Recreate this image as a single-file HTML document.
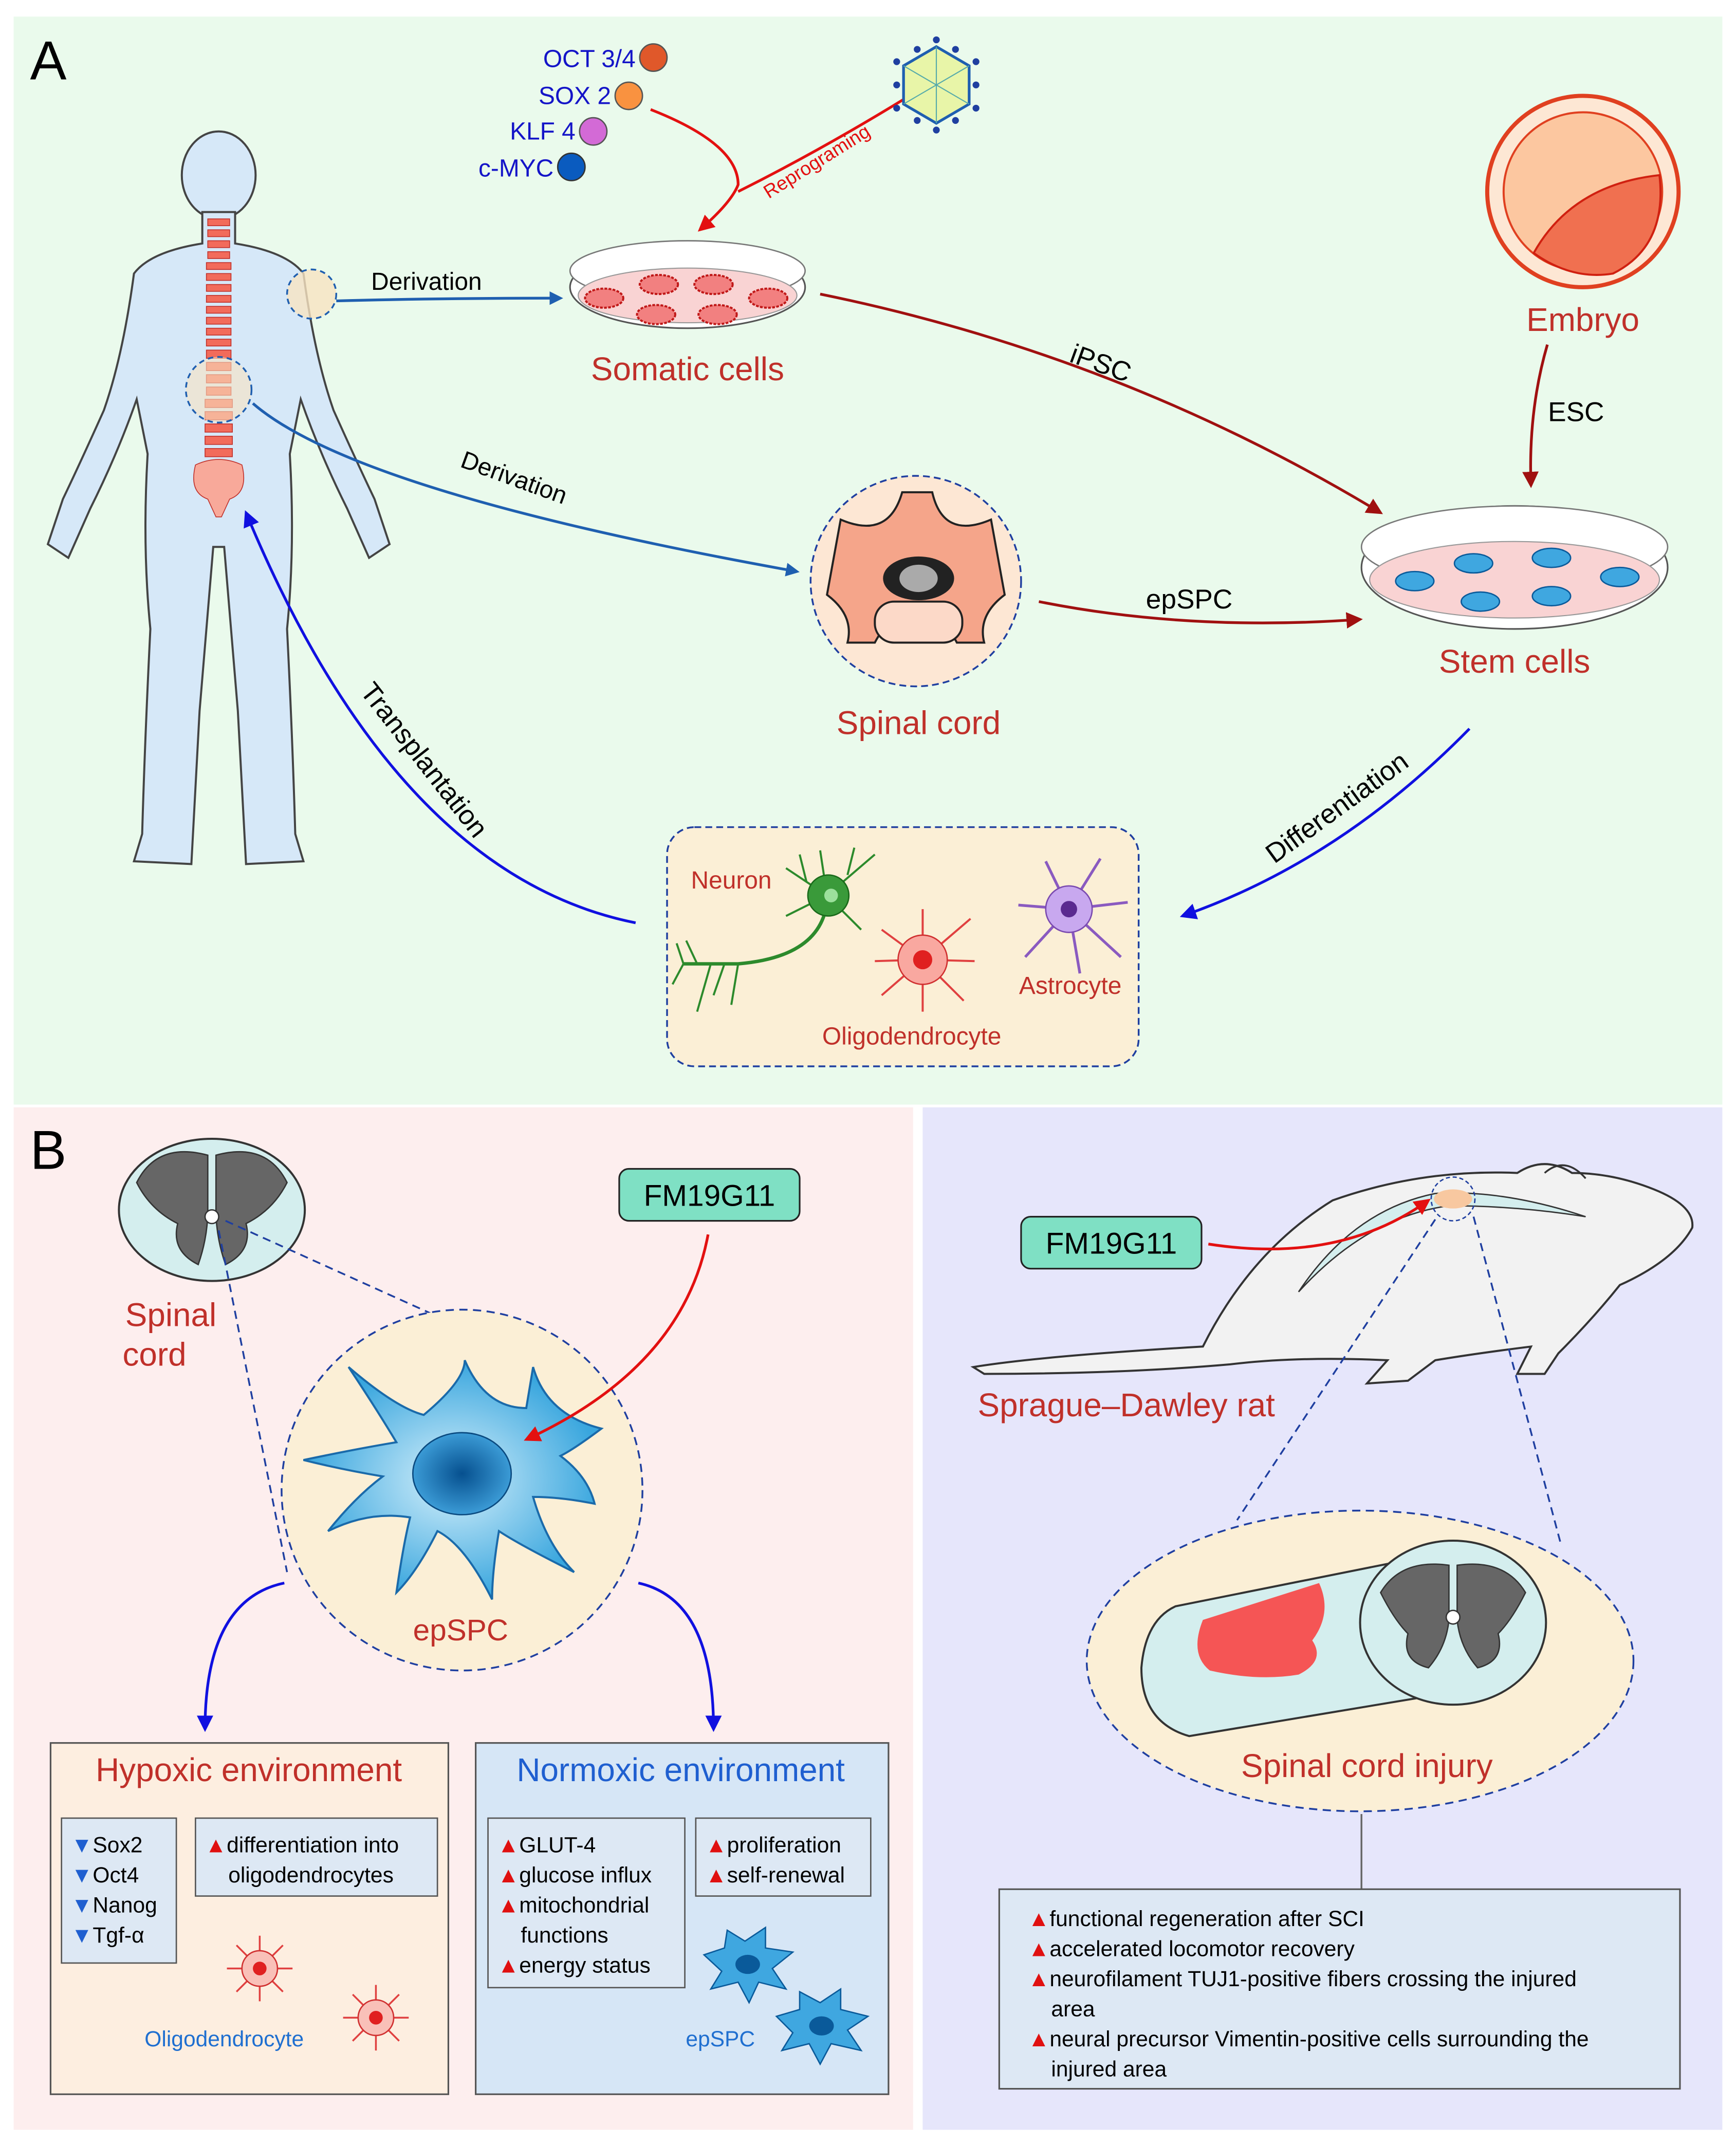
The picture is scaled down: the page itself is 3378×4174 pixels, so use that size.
<!DOCTYPE html>
<html><head><meta charset="utf-8"><style>
html,body{margin:0;padding:0;background:#fff}
svg{display:block}
text{font-family:"Liberation Sans",sans-serif}
</style></head><body>
<svg width="3378" height="4174" viewBox="0 0 1270 1569" xmlns="http://www.w3.org/2000/svg">
<defs>
<marker id="ab" markerWidth="10" markerHeight="10" refX="8" refY="5" orient="auto" markerUnits="userSpaceOnUse"><path d="M0,0 L10,5 L0,10 Z" fill="#1f5fb0"/></marker>
<marker id="ar" markerWidth="12" markerHeight="12" refX="10" refY="6" orient="auto" markerUnits="userSpaceOnUse"><path d="M0,0 L12,6 L0,12 Z" fill="#a01010"/></marker>
<marker id="arr" markerWidth="12" markerHeight="12" refX="10" refY="6" orient="auto" markerUnits="userSpaceOnUse"><path d="M0,0 L12,6 L0,12 Z" fill="#e31010"/></marker>
<marker id="abb" markerWidth="12" markerHeight="12" refX="10" refY="6" orient="auto" markerUnits="userSpaceOnUse"><path d="M0,0 L12,6 L0,12 Z" fill="#1010e0"/></marker>
<radialGradient id="cellg" cx="0.5" cy="0.5" r="0.5"><stop offset="0" stop-color="#d6f0fb"/><stop offset="1" stop-color="#39a6de"/></radialGradient>
<radialGradient id="nucg" cx="0.5" cy="0.5" r="0.5"><stop offset="0" stop-color="#06508f"/><stop offset="1" stop-color="#3b9bd6"/></radialGradient>
</defs>
<rect width="1270" height="1569" fill="#fff"/>
<rect x="10" y="12" width="1250" height="796" fill="#eafaec"/>
<rect x="10" y="810" width="658" height="748" fill="#fdeeee"/>
<rect x="675" y="810" width="585" height="748" fill="#e6e6fb"/>
<text x="22" y="58" font-size="40">A</text>
<text x="22" y="855" font-size="40">B</text>

<ellipse cx="160" cy="128" rx="27" ry="32" fill="#d6e8f8" stroke="#444" stroke-width="1.5"/>
<path d="M148,155 L148,178 Q110,184 98,200 Q90,260 76,300 Q58,340 46,365 L35,398 L50,408 L66,372 Q86,332 100,292 L108,332 Q104,400 110,460 Q106,540 104,610 L98,630 L140,632 L146,520 L156,400 L164,400 L174,520 L180,632 L222,630 L216,610 Q214,540 210,460 Q216,400 212,332 L220,292 Q234,332 254,372 L270,408 L285,398 L274,365 Q262,340 244,300 Q230,260 222,200 Q210,184 172,178 L172,155 Z" fill="#d6e8f8" stroke="#444" stroke-width="1.5"/>
<g fill="#f26b5b" stroke="#c0302a" stroke-width="0.6">
<rect x="152" y="160" width="16" height="5"/><rect x="152" y="168" width="16" height="5"/><rect x="152" y="176" width="16" height="5"/><rect x="152" y="184" width="16" height="5"/>
<rect x="151" y="192" width="18" height="5"/><rect x="151" y="200" width="18" height="5"/><rect x="151" y="208" width="18" height="5"/><rect x="151" y="216" width="18" height="5"/>
<rect x="151" y="224" width="18" height="5"/><rect x="151" y="232" width="18" height="5"/><rect x="151" y="240" width="18" height="5"/><rect x="151" y="248" width="18" height="5"/>
<rect x="151" y="256" width="18" height="6"/><rect x="151" y="265" width="18" height="6"/><rect x="151" y="274" width="18" height="6"/><rect x="151" y="283" width="18" height="6"/>
<rect x="150" y="292" width="20" height="6"/><rect x="150" y="301" width="20" height="6"/><rect x="150" y="310" width="20" height="6"/><rect x="150" y="319" width="20" height="6"/><rect x="150" y="328" width="20" height="6"/>
<path d="M143,340 Q160,332 177,340 Q182,360 168,365 L162,378 L158,378 L152,365 Q138,360 143,340 Z" fill="#f8a99a"/>
</g>
<circle cx="228" cy="215" r="18" fill="#f8e3c2" fill-opacity="0.8" stroke="#1f5fb0" stroke-width="1.3" stroke-dasharray="4,3"/>
<circle cx="160" cy="285" r="24" fill="#f8e3c2" fill-opacity="0.6" stroke="#1f5fb0" stroke-width="1.3" stroke-dasharray="4,3"/>

<path d="M246,220 Q320,218 410,218" fill="none" stroke="#1f5fb0" stroke-width="2" marker-end="url(#ab)"/>
<text x="312" y="212" font-size="18" text-anchor="middle">Derivation</text>
<path d="M185,295 Q260,360 583,418" fill="none" stroke="#1f5fb0" stroke-width="2" marker-end="url(#ab)"/>
<text x="374" y="355" font-size="18" text-anchor="middle" transform="rotate(20 374 355)">Derivation</text>

<ellipse cx="503" cy="210" rx="86" ry="30" fill="#fff" stroke="#555" stroke-width="1.2"/>
<ellipse cx="503" cy="198" rx="86" ry="22" fill="#fff" stroke="#777" stroke-width="1"/>
<ellipse cx="503" cy="216" rx="80" ry="20" fill="#f9d3d3" stroke="#999" stroke-width="0.8"/>
<g fill="#f28080" stroke="#c01818" stroke-width="1.5" stroke-dasharray="2,1">
<ellipse cx="442" cy="218" rx="14" ry="7"/><ellipse cx="482" cy="208" rx="14" ry="7"/><ellipse cx="522" cy="208" rx="14" ry="7"/><ellipse cx="562" cy="218" rx="14" ry="7"/><ellipse cx="480" cy="230" rx="14" ry="7"/><ellipse cx="525" cy="230" rx="14" ry="7"/>
</g>
<text x="503" y="278" font-size="24" fill="#c0302a" text-anchor="middle">Somatic cells</text>

<g font-size="18" fill="#1414c8" text-anchor="end">
<text x="465" y="49">OCT 3/4</text><text x="447" y="76">SOX 2</text><text x="421" y="102">KLF 4</text><text x="405" y="129">c-MYC</text>
</g>
<circle cx="478" cy="42" r="10" fill="#e0582a" stroke="#555"/>
<circle cx="460" cy="70" r="10" fill="#f99240" stroke="#555"/>
<circle cx="434" cy="96" r="10" fill="#d36ad6" stroke="#555"/>
<circle cx="418" cy="122" r="10" fill="#0a5bbf" stroke="#333"/>
<path d="M476,80 Q540,105 540,135 Q535,148 512,168" fill="none" stroke="#e31010" stroke-width="2" marker-end="url(#arr)"/>
<path d="M662,72 Q600,110 540,140" fill="none" stroke="#e31010" stroke-width="2"/>
<text x="600" y="122" font-size="14" fill="#e31010" text-anchor="middle" transform="rotate(-32 600 122)">Reprograming</text>
<g transform="translate(685,62)">
<polygon points="0,-28 24,-14 24,14 0,28 -24,14 -24,-14" fill="#e8f5a8" stroke="#1f5fb0" stroke-width="2"/>
<path d="M0,-28 L0,28 M-24,-14 L24,14 M24,-14 L-24,14" stroke="#5aa" stroke-width="0.8"/>
<g fill="#1f3fa0"><circle cx="0" cy="-33" r="2.5"/><circle cx="0" cy="33" r="2.5"/><circle cx="29" cy="-17" r="2.5"/><circle cx="-29" cy="-17" r="2.5"/><circle cx="29" cy="17" r="2.5"/><circle cx="-29" cy="17" r="2.5"/><circle cx="14" cy="-26" r="2.5"/><circle cx="-14" cy="-26" r="2.5"/><circle cx="14" cy="26" r="2.5"/><circle cx="-14" cy="26" r="2.5"/><circle cx="29" cy="0" r="2.5"/><circle cx="-29" cy="0" r="2.5"/></g>
</g>

<circle cx="1158" cy="140" r="70" fill="#fde7d4" stroke="#e04020" stroke-width="3"/>
<circle cx="1158" cy="140" r="58" fill="#fcc7a0" stroke="#e04020" stroke-width="1.5"/>
<path d="M1122,185 Q1150,135 1214,128 Q1220,180 1180,200 Q1150,205 1122,185 Z" fill="#f07050" stroke="#d02010" stroke-width="1.5"/>
<text x="1158" y="242" font-size="24" fill="#c0302a" text-anchor="middle">Embryo</text>
<path d="M1132,252 Q1118,300 1120,355" fill="none" stroke="#a01010" stroke-width="2" marker-end="url(#ar)"/>
<text x="1153" y="308" font-size="20" text-anchor="middle">ESC</text>
<path d="M600,215 Q820,260 1010,375" fill="none" stroke="#a01010" stroke-width="2" marker-end="url(#ar)"/>
<text x="803" y="272" font-size="20" text-anchor="middle" transform="rotate(20 803 272)">iPSC</text>

<ellipse cx="1108" cy="415" rx="112" ry="45" fill="#fff" stroke="#555" stroke-width="1.2"/>
<ellipse cx="1108" cy="400" rx="112" ry="30" fill="#fff" stroke="#777"/>
<ellipse cx="1108" cy="424" rx="106" ry="28" fill="#f9d3d3" stroke="#999" stroke-width="0.8"/>
<g fill="#3fa7e0" stroke="#0a5a9a"><ellipse cx="1035" cy="425" rx="14" ry="7"/><ellipse cx="1078" cy="412" rx="14" ry="7"/><ellipse cx="1135" cy="408" rx="14" ry="7"/><ellipse cx="1185" cy="422" rx="14" ry="7"/><ellipse cx="1083" cy="440" rx="14" ry="7"/><ellipse cx="1135" cy="436" rx="14" ry="7"/></g>
<text x="1108" y="492" font-size="24" fill="#c0302a" text-anchor="middle">Stem cells</text>

<circle cx="670" cy="425" r="77" fill="#fde7d4" stroke="#1f3fa0" stroke-width="1.3" stroke-dasharray="5,3"/>
<path d="M615,380 Q650,395 660,360 L682,360 Q690,395 725,380 L735,435 Q715,450 720,470 L700,470 Q690,450 670,450 Q650,450 640,470 L620,470 Q625,450 605,435 Z" fill="#f5a58a" stroke="#222" stroke-width="1.5"/>
<ellipse cx="672" cy="423" rx="26" ry="16" fill="#222"/>
<ellipse cx="672" cy="423" rx="14" ry="10" fill="#aaa"/>
<rect x="640" y="440" width="64" height="30" rx="14" fill="#fcd9c8" stroke="#222" stroke-width="1.5"/>
<text x="672" y="537" font-size="24" fill="#c0302a" text-anchor="middle">Spinal cord</text>
<path d="M760,440 Q870,462 995,453" fill="none" stroke="#a01010" stroke-width="2" marker-end="url(#ar)"/>
<text x="870" y="445" font-size="20" text-anchor="middle">epSPC</text>

<path d="M1075,533 Q980,630 865,670" fill="none" stroke="#1010e0" stroke-width="2" marker-end="url(#abb)"/>
<text x="982" y="596" font-size="20" text-anchor="middle" transform="rotate(-36 982 596)">Differentiation</text>
<rect x="488" y="605" width="345" height="175" rx="20" fill="#fbefd6" stroke="#1f3fa0" stroke-width="1.3" stroke-dasharray="5,3"/>
<text x="535" y="650" font-size="18" fill="#c0302a" text-anchor="middle">Neuron</text>
<path d="M605,660 Q600,700 540,705 L500,705" fill="none" stroke="#2c8a2c" stroke-width="2.5"/>
<g stroke="#2c8a2c" stroke-width="1.5" fill="none"><path d="M500,705 L495,690 M500,705 L492,720 M520,705 L510,740 M540,705 L535,735 M510,705 L502,688 M530,705 L522,728"/>
<path d="M605,655 L575,635 M605,655 L640,625 M605,655 L630,680 M605,655 L600,622 M605,655 L575,670 M590,645 L585,625 M620,640 L625,620"/></g>
<circle cx="606" cy="655" r="15" fill="#3a9a3a" stroke="#1a6a1a"/>
<circle cx="608" cy="655" r="5" fill="#9ce09c"/>
<g stroke="#e04040" stroke-width="1.5" fill="none"><path d="M675,702 L645,680 M675,702 L710,672 M675,702 L705,732 M675,702 L645,728 M675,702 L675,665 M675,702 L675,740 M675,702 L640,703 M675,702 L713,703"/></g>
<circle cx="675" cy="702" r="18" fill="#f9a8a0" stroke="#d03030"/>
<circle cx="675" cy="702" r="7" fill="#e02020"/>
<g stroke="#8a5ac0" stroke-width="2" fill="none"><path d="M782,665 L745,662 M782,665 L765,630 M782,665 L805,628 M782,665 L825,660 M782,665 L820,700 M782,665 L790,712 M782,665 L750,700"/></g>
<circle cx="782" cy="665" r="17" fill="#c8a8ef" stroke="#7a4ab0"/>
<circle cx="782" cy="665" r="6" fill="#5a2a90"/>
<text x="667" y="764" font-size="18" fill="#c0302a" text-anchor="middle">Oligodendrocyte</text>
<text x="783" y="727" font-size="18" fill="#c0302a" text-anchor="middle">Astrocyte</text>

<path d="M465,675 Q290,640 180,375" fill="none" stroke="#1010e0" stroke-width="2" marker-end="url(#abb)"/>
<text x="305" y="560" font-size="20" text-anchor="middle" transform="rotate(52 305 560)">Transplantation</text>

<g transform="translate(155,885)">
<ellipse cx="0" cy="0" rx="68" ry="52" fill="#d4eeee" stroke="#333" stroke-width="1.5"/>
<path d="M-3,-40 Q-40,-50 -55,-20 Q-45,0 -25,10 Q-30,30 -10,40 Q-3,20 -3,0 Z" fill="#666" stroke="#333"/>
<path d="M3,-40 Q40,-50 55,-20 Q45,0 25,10 Q30,30 10,40 Q3,20 3,0 Z" fill="#666" stroke="#333"/>
<circle cx="0" cy="5" r="5" fill="#fff" stroke="#333"/>
</g>
<text x="125" y="970" font-size="24" fill="#c0302a" text-anchor="middle">Spinal</text>
<text x="113" y="999" font-size="24" fill="#c0302a" text-anchor="middle">cord</text>
<path d="M160,900 L210,1150 M165,893 L380,990" stroke="#1f3fa0" stroke-width="1.3" stroke-dasharray="6,4" fill="none"/>
<circle cx="338" cy="1090" r="132" fill="#fbefd6" stroke="#1f3fa0" stroke-width="1.3" stroke-dasharray="6,4"/>
<path d="M255,1000 Q290,1030 310,1035 Q340,1010 340,995 Q355,1030 385,1030 L390,1000 Q400,1035 440,1045 Q420,1060 410,1065 Q430,1080 435,1100 Q410,1095 390,1095 Q400,1130 420,1150 Q380,1130 365,1120 Q360,1150 360,1170 Q340,1130 320,1120 Q305,1150 290,1165 Q295,1130 300,1110 Q270,1105 240,1120 Q260,1095 280,1080 Q250,1075 222,1068 Q260,1060 290,1055 Q275,1030 255,1000 Z" fill="url(#cellg)" stroke="#1a6aaa" stroke-width="1.5"/>
<ellipse cx="338" cy="1078" rx="36" ry="30" fill="url(#nucg)" stroke="#0a4a80"/>
<text x="337" y="1200" font-size="22" fill="#c0302a" text-anchor="middle">epSPC</text>
<rect x="453" y="855" width="132" height="38" rx="7" fill="#7fe0c4" stroke="#222" stroke-width="1.2"/>
<text x="519" y="882" font-size="22" text-anchor="middle">FM19G11</text>
<path d="M518,903 Q500,1000 385,1053" fill="none" stroke="#e31010" stroke-width="2" marker-end="url(#arr)"/>
<path d="M208,1158 Q150,1170 150,1265" fill="none" stroke="#1010e0" stroke-width="2" marker-end="url(#abb)"/>
<path d="M467,1158 Q522,1170 522,1265" fill="none" stroke="#1010e0" stroke-width="2" marker-end="url(#abb)"/>

<rect x="37" y="1275" width="291" height="257" fill="#fdeee0" stroke="#555" stroke-width="1.2"/>
<text x="182" y="1303" font-size="24" fill="#c0302a" text-anchor="middle">Hypoxic environment</text>
<rect x="45" y="1330" width="84" height="106" fill="#dde8f4" stroke="#555"/>
<g font-size="16"><text x="52" y="1355"><tspan fill="#1f5fd0">▼</tspan>Sox2</text><text x="52" y="1377"><tspan fill="#1f5fd0">▼</tspan>Oct4</text><text x="52" y="1399"><tspan fill="#1f5fd0">▼</tspan>Nanog</text><text x="52" y="1421"><tspan fill="#1f5fd0">▼</tspan>Tgf-α</text></g>
<rect x="143" y="1330" width="177" height="57" fill="#dde8f4" stroke="#555"/>
<g font-size="16"><text x="150" y="1355"><tspan fill="#e01010">▲</tspan>differentiation into</text><text x="167" y="1377">oligodendrocytes</text></g>
<g stroke="#e04040" stroke-width="1.3"><path d="M190,1440 m-24,0 l48,0 m-24,-24 l0,48 m-17,-41 l34,34 m0,-34 l-34,34"/><path d="M275,1476 m-24,0 l48,0 m-24,-24 l0,48 m-17,-41 l34,34 m0,-34 l-34,34"/></g>
<circle cx="190" cy="1440" r="13" fill="#f9c0b8" stroke="#d03030"/><circle cx="190" cy="1440" r="5" fill="#e02020"/>
<circle cx="275" cy="1476" r="13" fill="#f9c0b8" stroke="#d03030"/><circle cx="275" cy="1476" r="5" fill="#e02020"/>
<text x="164" y="1497" font-size="16" fill="#1f6fd0" text-anchor="middle">Oligodendrocyte</text>

<rect x="348" y="1275" width="302" height="257" fill="#d6e6f6" stroke="#555" stroke-width="1.2"/>
<text x="498" y="1303" font-size="24" fill="#1f5fd0" text-anchor="middle">Normoxic environment</text>
<rect x="357" y="1330" width="144" height="124" fill="#dde8f4" stroke="#555"/>
<g font-size="16"><text x="364" y="1355"><tspan fill="#e01010">▲</tspan>GLUT-4</text><text x="364" y="1377"><tspan fill="#e01010">▲</tspan>glucose influx</text><text x="364" y="1399"><tspan fill="#e01010">▲</tspan>mitochondrial</text><text x="381" y="1421">functions</text><text x="364" y="1443"><tspan fill="#e01010">▲</tspan>energy status</text></g>
<rect x="509" y="1330" width="128" height="57" fill="#dde8f4" stroke="#555"/>
<g font-size="16"><text x="516" y="1355"><tspan fill="#e01010">▲</tspan>proliferation</text><text x="516" y="1377"><tspan fill="#e01010">▲</tspan>self-renewal</text></g>
<g fill="#3fa7e0" stroke="#0a5a9a"><path d="M515,1430 L530,1425 L532,1412 L545,1420 L560,1410 L560,1425 L580,1428 L565,1440 L575,1455 L555,1450 L548,1465 L540,1450 L520,1455 L528,1442 Z"/><path d="M568,1475 L585,1470 L585,1457 L600,1465 L615,1455 L615,1470 L635,1475 L620,1485 L630,1500 L608,1495 L600,1510 L592,1495 L572,1500 L580,1487 Z"/></g>
<ellipse cx="547" cy="1437" rx="9" ry="7" fill="#0a5a9a"/><ellipse cx="601" cy="1482" rx="9" ry="7" fill="#0a5a9a"/>
<text x="527" y="1497" font-size="16" fill="#1f6fd0" text-anchor="middle">epSPC</text>

<!-- rat -->
<path d="M712,1000 Q760,992 880,985 Q915,915 975,878 Q1040,855 1110,858 Q1130,845 1150,858 Q1180,858 1210,870 Q1240,882 1238,898 Q1225,922 1185,940 Q1165,965 1140,990 L1130,1005 L1110,1005 L1120,985 Q1080,990 1050,995 L1030,1010 L1000,1012 L1015,995 Q950,992 900,998 Q820,1005 720,1005 Z" fill="#f2f2f2" stroke="#333" stroke-width="1.5"/>
<path d="M1130,858 Q1145,845 1160,862" fill="none" stroke="#333" stroke-width="1.3"/>
<path d="M950,945 Q990,885 1050,873 Q1100,870 1160,890 Q1110,882 1060,882 Q1000,890 950,945 Z" fill="#d4eeee" stroke="#333"/>
<ellipse cx="1063" cy="877" rx="14" ry="7" fill="#f8c8a0"/>
<circle cx="1063" cy="877" r="16" fill="none" stroke="#1f3fa0" stroke-dasharray="3,2"/>
<rect x="747" y="890" width="132" height="38" rx="7" fill="#7fe0c4" stroke="#222" stroke-width="1.2"/>
<text x="813" y="917" font-size="22" text-anchor="middle">FM19G11</text>
<path d="M884,910 Q980,925 1045,878" fill="none" stroke="#e31010" stroke-width="2" marker-end="url(#arr)"/>
<text x="824" y="1036" font-size="24" fill="#c0302a" text-anchor="middle">Sprague–Dawley rat</text>
<path d="M1050,892 L905,1112 M1078,890 L1142,1130" stroke="#1f3fa0" stroke-width="1.3" stroke-dasharray="6,4"/>
<ellipse cx="995" cy="1215" rx="200" ry="110" fill="#fbefd6" stroke="#1f3fa0" stroke-width="1.3" stroke-dasharray="6,4"/>
<path d="M860,1175 L1035,1140 Q1070,1160 1075,1200 Q1070,1230 1050,1240 L870,1270 Q835,1260 835,1220 Q838,1185 860,1175 Z" fill="#d4eeee" stroke="#333" stroke-width="1.5"/>
<ellipse cx="1063" cy="1187" rx="68" ry="60" fill="#d4eeee" stroke="#333" stroke-width="1.5"/>
<path d="M1060,1145 Q1025,1140 1010,1165 Q1020,1185 1030,1195 Q1025,1215 1045,1220 Q1058,1205 1060,1185 Z" fill="#666" stroke="#333"/>
<path d="M1066,1145 Q1101,1140 1116,1165 Q1106,1185 1096,1195 Q1101,1215 1081,1220 Q1068,1205 1066,1185 Z" fill="#666" stroke="#333"/>
<circle cx="1063" cy="1183" r="5" fill="#fff" stroke="#333"/>
<path d="M880,1185 L965,1158 Q975,1180 960,1200 Q970,1215 950,1225 Q920,1230 885,1222 Q870,1210 880,1185 Z" fill="#f55555"/>
<text x="1000" y="1300" font-size="24" fill="#c0302a" text-anchor="middle">Spinal cord injury</text>
<line x1="996" y1="1327" x2="996" y2="1382" stroke="#666" stroke-width="1.3"/>
<rect x="731" y="1382" width="498" height="146" fill="#dde8f4" stroke="#555" stroke-width="1.2"/>
<g font-size="16"><text x="752" y="1409"><tspan fill="#e01010">▲</tspan>functional regeneration after SCI</text>
<text x="752" y="1431"><tspan fill="#e01010">▲</tspan>accelerated locomotor recovery</text>
<text x="752" y="1453"><tspan fill="#e01010">▲</tspan>neurofilament TUJ1-positive fibers crossing the injured</text>
<text x="769" y="1475">area</text>
<text x="752" y="1497"><tspan fill="#e01010">▲</tspan>neural precursor Vimentin-positive cells surrounding the</text>
<text x="769" y="1519">injured area</text></g>
</svg>
</body></html>
